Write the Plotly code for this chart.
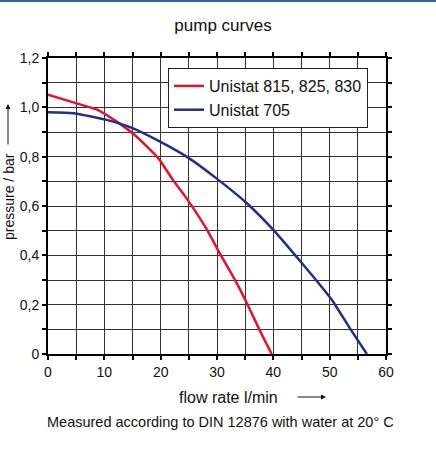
import plotly.graph_objects as go

# Data
red_name = "Unistat 815, 825, 830"
red_flow = [0, 4.5, 8.9, 12.0, 15.4, 19.6, 22.2, 24.6, 27.9, 30.5, 33.5, 35.3, 37.5, 39.7]
red_pressure = [1.051, 1.02, 0.989, 0.945, 0.888, 0.793, 0.705, 0.631, 0.516, 0.408, 0.287, 0.206, 0.10, 0.0]

blue_name = "Unistat 705"
blue_flow = [0, 4.5, 10.4, 15.1, 19.9, 24.6, 29.9, 35.3, 40.0, 43.6, 47.1, 50.4, 53.6, 56.6]
blue_pressure = [0.98, 0.976, 0.949, 0.915, 0.861, 0.800, 0.712, 0.611, 0.503, 0.408, 0.313, 0.219, 0.104, 0.0]

x_tickvals = list(range(0, 61, 5))
x_ticktext = [str(v) if v % 10 == 0 else "" for v in x_tickvals]
y_tickvals = [i / 10 for i in range(0, 13)]
y_ticktext = ["0", "", "0,2", "", "0,4", "", "0,6", "", "0,8", "", "1,0", "", "1,2"]

FONT = "Liberation Sans, Arial, Helvetica, sans-serif"

fig = go.Figure()
fig.add_trace(go.Scatter(x=red_flow, y=red_pressure, mode="lines", name=red_name,
                         line=dict(color="#e8112d", width=2.5, shape="spline", smoothing=0.5)))
fig.add_trace(go.Scatter(x=blue_flow, y=blue_pressure, mode="lines", name=blue_name,
                         line=dict(color="#1f2f8a", width=2.5, shape="spline", smoothing=0.5)))

L, R, T, B = 48, 50, 58, 96
W, H = 436, 450
pw, ph = W - L - R, H - T - B

def px(x):
    return (x - L) / pw

def py(y):
    return (H - B - y) / ph

fig.update_layout(
    width=W, height=H,
    margin=dict(l=L, r=R, t=T, b=B),
    paper_bgcolor="white", plot_bgcolor="white",
    font=dict(family=FONT, size=14, color="#111"),
    title=dict(text="pump curves", x=223 / W, y=1 - 25 / H, xanchor="center", yanchor="middle",
               font=dict(size=17, family=FONT, color="#111")),
    showlegend=True,
    legend=dict(x=px(168), y=py(68), xanchor="left", yanchor="top",
                bgcolor="white", bordercolor="#222", borderwidth=1,
                font=dict(size=16, family=FONT, color="#111"),
                tracegroupgap=0, itemwidth=30),
    xaxis=dict(range=[0, 60], tickmode="array", tickvals=x_tickvals, ticktext=x_ticktext,
               showgrid=True, gridcolor="#333", gridwidth=1.2,
               showline=True, linecolor="black", linewidth=2, mirror="allticks",
               ticks="outside", ticklen=4, tickcolor="black", tickwidth=1.5,
               zeroline=False, fixedrange=True, tickfont=dict(size=14)),
    yaxis=dict(range=[0, 1.2], tickmode="array", tickvals=y_tickvals, ticktext=y_ticktext,
               showgrid=True, gridcolor="#333", gridwidth=1.2,
               showline=True, linecolor="black", linewidth=2, mirror="allticks",
               ticks="outside", ticklen=4, tickcolor="black", tickwidth=1.5,
               zeroline=False, fixedrange=True, tickfont=dict(size=14)),
)

annotations = [
    dict(text="flow rate l/min", x=px(228), y=py(397), xref="paper", yref="paper",
         showarrow=False, xanchor="center", yanchor="middle", font=dict(size=16, family=FONT, color="#111")),
    dict(text="", x=px(326), y=py(397), xref="paper", yref="paper",
         showarrow=True, ax=-30, ay=0, arrowhead=2, arrowsize=1, arrowwidth=1, arrowcolor="#111"),
    dict(text="pressure / bar", x=px(9), y=py(197), xref="paper", yref="paper",
         showarrow=False, textangle=-90, xanchor="center", yanchor="middle",
         font=dict(size=14, family=FONT, color="#111")),
    dict(text="", x=px(8), y=py(104), xref="paper", yref="paper",
         showarrow=True, ax=0, ay=42, arrowhead=2, arrowsize=1, arrowwidth=1, arrowcolor="#111"),
    dict(text="Measured according to DIN 12876 with water at 20° C", x=px(220), y=py(422),
         xref="paper", yref="paper", showarrow=False, xanchor="center", yanchor="middle",
         font=dict(size=14.5, family=FONT, color="#111")),
]
fig.update_layout(annotations=annotations)

# thin header rule at very top of the page
fig.add_shape(type="rect", xref="paper", yref="paper", x0=px(0), x1=px(W), y0=py(0), y1=py(2),
              line=dict(width=0), fillcolor="#2a6aa0", layer="above")

fig.write_html("out.html", post_script="document.body.style.margin='0';",
               config={"displayModeBar": False})
